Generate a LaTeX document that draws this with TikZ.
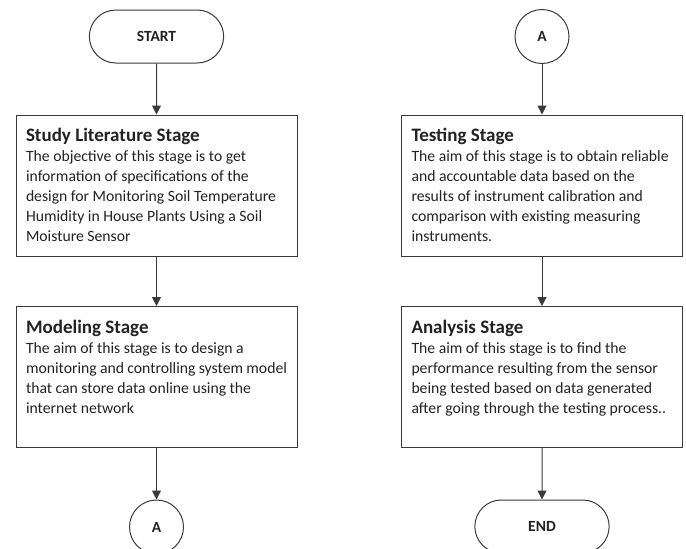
\documentclass[tikz,border=0pt]{standalone}
\usepackage{fontspec}
\setmainfont{Carlito}
\usepackage{xcolor}
\usetikzlibrary{shapes.misc, shapes.geometric, arrows.meta}

\definecolor{linegray}{HTML}{3A3A3A}
\definecolor{txtgray}{HTML}{222222}

\newcommand{\stagetext}[2]{\parbox[t][121pt][t]{261pt}{\raggedright
	\rule{0pt}{16.5pt}{\fontsize{19}{20}\selectfont\bfseries #1}\\
	\fontsize{15.7}{20}\selectfont #2}}

\tikzset{
	term/.style={draw, rounded rectangle, minimum width=141pt, minimum height=53pt,
		font=\fontsize{15.5}{17}\selectfont\bfseries},
	conn/.style={draw, circle, minimum size=54pt, inner sep=0pt,
		font=\fontsize{15.5}{17}\selectfont\bfseries},
	stagebox/.style={draw, rectangle, inner sep=10pt}
}

\begin{document}
\begin{tikzpicture}[>={Triangle[length=9pt, width=9pt]}, line width=1pt,
		x=1pt, y=-1pt, draw=linegray, text=txtgray]
	\useasboundingbox (0, 0) rectangle (686, 549);

	\node[term] (start) at (156.5, 36.5) {START};
	\node[stagebox] (lit) [below of=start, node distance=149pt] {\stagetext{Study Literature Stage}{The objective of this stage is to get\\
			information of specifications of the\\
			design for Monitoring Soil Temperature\\
			Humidity in House Plants Using a Soil\\
			Moisture Sensor}};
	\node[stagebox] (model) [below of=lit, node distance=191.5pt] {\stagetext{Modeling Stage}{The aim of this stage is to design a\\
			monitoring and controlling system model\\
			that can store data online using the\\
			internet network}};
	\node[conn] (a1) [below of=model, node distance=150pt] {A};

	\node[conn] (a2) [right of=start, node distance=385.5pt] {A};
	\node[stagebox] (test) [below of=a2, node distance=149pt] {\stagetext{Testing Stage}{The aim of this stage is to obtain reliable\\
			and accountable data based on the\\
			results of instrument calibration and\\
			comparison with existing measuring\\
			instruments.}};
	\node[stagebox] (analysis) [below of=test, node distance=191.5pt] {\stagetext{Analysis Stage}{The aim of this stage is to find the\\
			performance resulting from the sensor\\
			being tested based on data generated\\
			after going through the testing process..}};
	\node[term] (end) [below of=analysis, node distance=149.5pt] {END};

	\draw[->, draw=linegray] (start) -- (lit);
	\draw[->, draw=linegray] (lit) -- (model);
	\draw[->, draw=linegray] (model) -- (a1);
	\draw[->, draw=linegray] (a2) -- (test);
	\draw[->, draw=linegray] (test) -- (analysis);
	\draw[->, draw=linegray] (analysis) -- (end);
\end{tikzpicture}
\end{document}
